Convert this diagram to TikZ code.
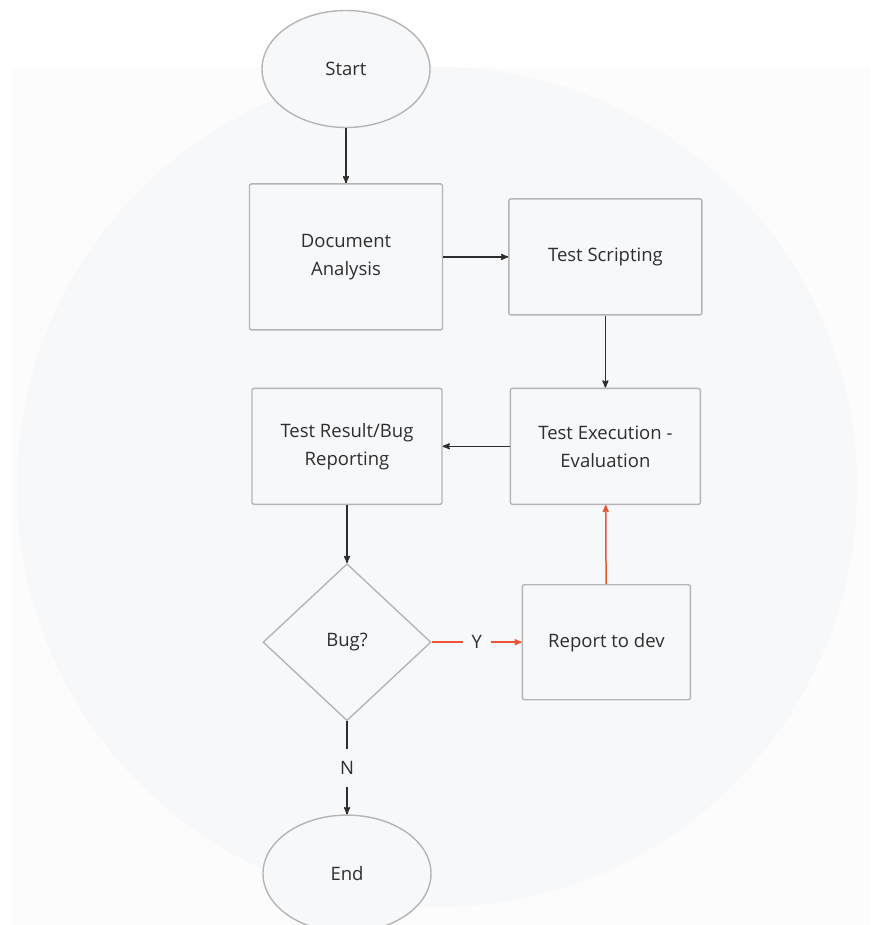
\documentclass[tikz,border=0pt]{standalone}
\usepackage{fontspec}
\setmainfont{Open Sans}
\usepackage{tikz}
\usetikzlibrary{arrows,shapes.geometric,positioning}
\definecolor{pagebg}{HTML}{FCFCFD}
\definecolor{discbg}{HTML}{F7F8FA}
\definecolor{edgegray}{HTML}{B5B5B5}
\definecolor{inkgray}{HTML}{2E2E2E}
\definecolor{yesred}{HTML}{F0532F}
\tikzset{
    base/.style={draw=edgegray, line width=1.4pt, fill=discbg, text=inkgray,
        font=\fontsize{18.5pt}{28pt}\selectfont, align=center, inner sep=0pt},
    term/.style={base, ellipse, minimum width=168pt, minimum height=117pt},
    proc/.style={base, rectangle, rounded corners=2pt},
    decide/.style={base, diamond, minimum width=168pt, minimum height=157pt, aspect=1.07},
    arrow/.style={->, >=stealth', line width=1.5pt, draw=inkgray},
    yarrow/.style={->, >=stealth', line width=1.5pt, draw=yesred},
    gaplabel/.style={fill=discbg, text=inkgray, font=\fontsize{18.5pt}{20pt}\selectfont}
}

\begin{document}
\begin{tikzpicture}[x=1pt,y=-1pt]
    % backdrop
    \useasboundingbox (0,0) rectangle (870,925);
    \fill[white] (0,0) rectangle (870,925);
    \fill[pagebg] (12,67) rectangle (870,925);
    \fill[discbg] (437,487) circle (420);

    \node[term] (start) at (346,69) {Start};
    \node[proc, minimum width=193pt, minimum height=146pt, below=55pt of start] (docana) {Document\\Analysis};
    \node[proc, minimum width=193pt, minimum height=116pt, right=65pt of docana] (script) {Test Scripting};
    \node[proc, minimum width=190pt, minimum height=116pt, below=72pt of script] (exec) {Test Execution -\\Evaluation};
    \node[proc, minimum width=190pt, minimum height=116pt, left=67pt of exec] (result) {Test Result/Bug\\Reporting};
    \node[decide, below=58pt of result] (bug) {Bug?};
    \node[proc, minimum width=168pt, minimum height=115pt, right=90pt of bug] (report) {Report to dev};
    \node[term, below=93pt of bug] (finish) {End};

    \path (start) edge [arrow] (docana)
        (docana) edge [arrow] (script)
        (script) edge [arrow] (exec)
        (exec) edge [arrow] (result)
        (result) edge [arrow] (bug)
        (bug) edge [yarrow] node[gaplabel, inner xsep=9pt] {Y} (report)
        (report) edge [yarrow] (exec)
        (bug) edge [arrow] node[gaplabel, inner ysep=12pt] {N} (finish);
\end{tikzpicture}
\end{document}
